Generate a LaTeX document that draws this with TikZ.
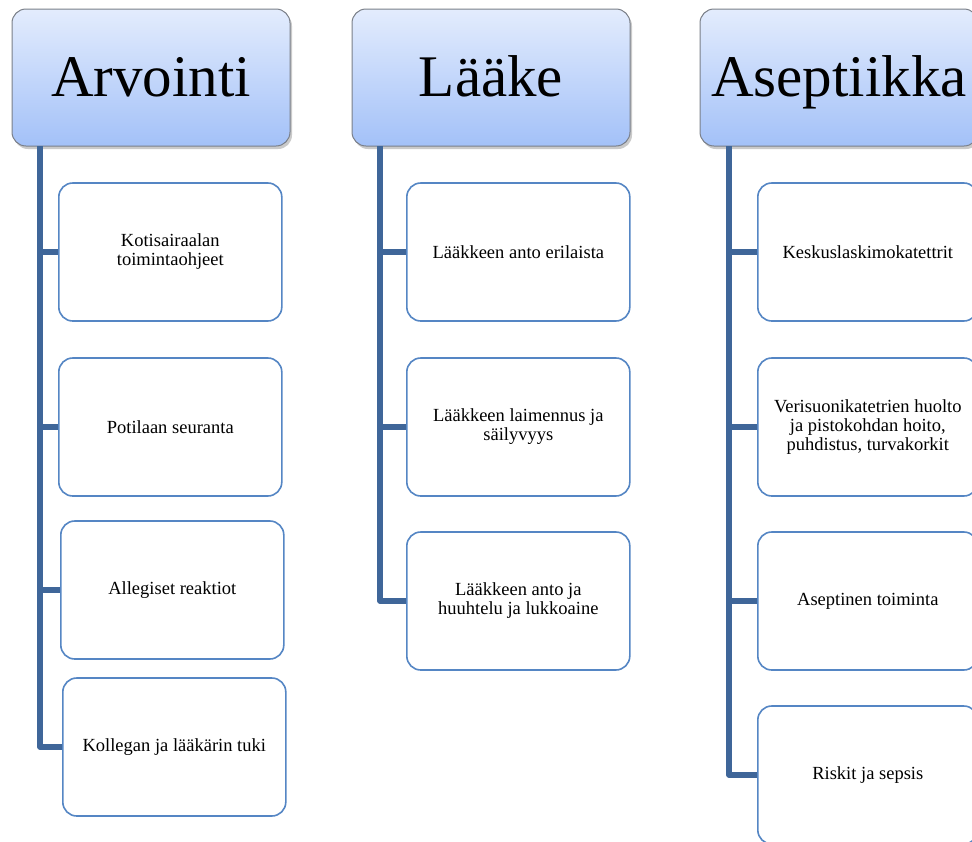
\documentclass[tikz,border=0pt]{standalone}
\usepackage{fontspec}
\setmainfont{Liberation Serif}
\usetikzlibrary{shadows}
\definecolor{trunkc}{HTML}{3F6699}
\definecolor{boxc}{HTML}{5586C4}
\definecolor{htop}{HTML}{E3ECFD}
\definecolor{hbot}{HTML}{A3C1F8}
\definecolor{hborder}{HTML}{7A7F88}
\tikzset{
  header/.style={rectangle, rounded corners=14pt, draw=hborder, line width=1pt,
    top color=htop, bottom color=hbot, minimum width=278pt, minimum height=137pt,
    font=\fontsize{59}{60}\selectfont, inner sep=0pt, text height=45pt, text depth=8pt,
    drop shadow={shadow xshift=2pt, shadow yshift=-3pt, opacity=0.35, fill=black!60}},
  child/.style={rectangle, rounded corners=14pt, draw=boxc, line width=1.6pt, fill=white,
    minimum width=223pt, minimum height=138pt, align=center, inner sep=2pt,
    font=\fontsize{18.5}{19}\selectfont},
  trunk/.style={draw=trunkc, line width=5.5pt, line join=round}
}
\begin{document}
\begin{tikzpicture}[x=1pt,y=-1pt]
\useasboundingbox (0,0) rectangle (972,841);
% headers
\node[header] (h1) at (151,77.5) {Arvointi};
\node[header] (h2) at (491,77.5) {Lääke};
\node[header] (h3) at (839,77.5) {Aseptiikka};
\coordinate (t1) at (40,146);
\coordinate (t2) at (380,146);
\coordinate (t3) at (729,146);
% trunk anchors at child left edges
\coordinate (a1w) at (58,252);
\coordinate (a2w) at (58,427);
\coordinate (a3w) at (60,590);
\coordinate (a4w) at (62,747);
\coordinate (b1w) at (406,252);
\coordinate (b2w) at (406,427);
\coordinate (b3w) at (406,601);
\coordinate (c1w) at (757,252);
\coordinate (c2w) at (757,427);
\coordinate (c3w) at (757,601);
\coordinate (c4w) at (757,775);
% connectors
\draw[trunk] (t1) |- (a4w);
\draw[trunk] (a1w -| t1) -- (a1w);
\draw[trunk] (a2w -| t1) -- (a2w);
\draw[trunk] (a3w -| t1) -- (a3w);
\draw[trunk] (t2) |- (b3w);
\draw[trunk] (b1w -| t2) -- (b1w);
\draw[trunk] (b2w -| t2) -- (b2w);
\draw[trunk] (t3) |- (c4w);
\draw[trunk] (c1w -| t3) -- (c1w);
\draw[trunk] (c2w -| t3) -- (c2w);
\draw[trunk] (c3w -| t3) -- (c3w);
% children
\node[child, anchor=west] (a1) at (a1w) {Kotisairaalan\\toimintaohjeet};
\node[child, anchor=west] (a2) at (a2w) {Potilaan seuranta};
\node[child, anchor=west] (a3) at (a3w) {Allegiset reaktiot};
\node[child, anchor=west] (a4) at (a4w) {Kollegan ja lääkärin tuki};
\node[child, anchor=west] (b1) at (b1w) {Lääkkeen anto erilaista};
\node[child, anchor=west] (b2) at (b2w) {Lääkkeen laimennus ja\\säilyvyys};
\node[child, anchor=west] (b3) at (b3w) {Lääkkeen anto ja\\huuhtelu ja lukkoaine};
\node[child, anchor=west, minimum width=220pt] (c1) at (c1w) {Keskuslaskimokatettrit};
\node[child, anchor=west, minimum width=220pt] (c2) at (c2w) {Verisuonikatetrien huolto\\ja pistokohdan hoito,\\puhdistus, turvakorkit};
\node[child, anchor=west, minimum width=220pt] (c3) at (c3w) {Aseptinen toiminta};
\node[child, anchor=west, minimum width=220pt] (c4) at (c4w) {Riskit ja sepsis};
\end{tikzpicture}
\end{document}
